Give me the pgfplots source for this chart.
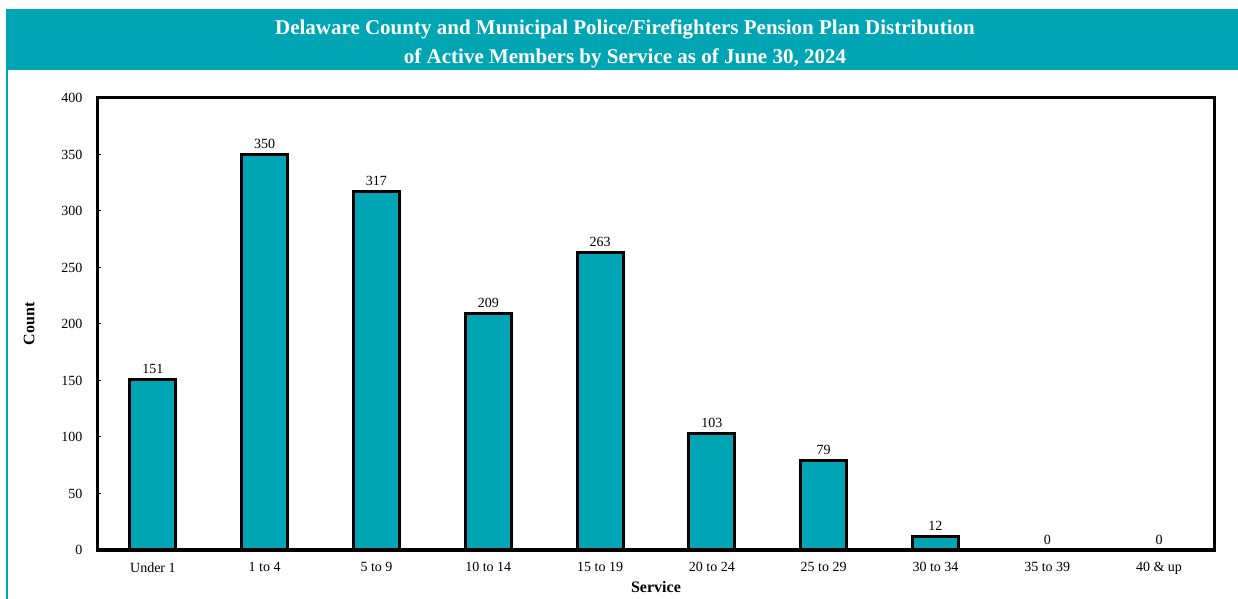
\documentclass[border=0pt]{standalone}
\usepackage{fontspec}
\setmainfont{Liberation Serif}
\usepackage{pgfplots}
\pgfplotsset{compat=1.18}
\definecolor{tealband}{RGB}{0,165,180}
\begin{document}
\begin{tikzpicture}
\useasboundingbox (0,0) rectangle (1238bp,599bp);
% title band
\fill[tealband] (6bp,529bp) rectangle (1238bp,590bp);
\draw[tealband, line width=2bp] (7bp,0) -- (7bp,529bp);
\node[white, font=\fontsize{21bp}{29bp}\selectfont\bfseries, align=center] at (625bp,555bp)
  {Delaware County and Municipal Police/Firefighters Pension Plan Distribution\\of Active Members by Service as of June 30, 2024};

\begin{axis}[
    at={(97bp,49bp)}, anchor=south west,
    width=1118bp, height=452bp, scale only axis,
    ybar, bar width=46bp,
    ymin=0, ymax=400, ytick={0,50,...,400},
    xmin=-0.5, xmax=9.5, xtick={0,...,9},
    xticklabels={Under 1,1 to 4,5 to 9,10 to 14,15 to 19,20 to 24,25 to 29,30 to 34,35 to 39,40 \& up},
    axis line style={line width=3bp},
    xtick style={draw=none},
    ytick style={black, line width=1bp},
    tick align=inside, major tick length=4bp,
    ytick pos=left,
    /pgf/number format/assume math mode=true,
    tick label style={font=\fontsize{14bp}{16bp}\selectfont},
    yticklabel style={xshift=-11bp},
    xticklabel style={yshift=-9bp},
    xlabel={Service}, ylabel={Count},
    label style={font=\fontsize{16bp}{18bp}\selectfont\bfseries},
    xlabel style={yshift=0bp},
    ylabel style={yshift=20bp},
    nodes near coords,
    every node near coord/.append style={font=\fontsize{14bp}{16bp}\selectfont, black, yshift=1bp},
  ]
\addplot[fill=tealband, draw=black, line width=3bp] coordinates {
  (0,151) (1,350) (2,317) (3,209) (4,263) (5,103) (6,79) (7,12) (8,0) (9,0)
};
\end{axis}
\end{tikzpicture}
\end{document}
